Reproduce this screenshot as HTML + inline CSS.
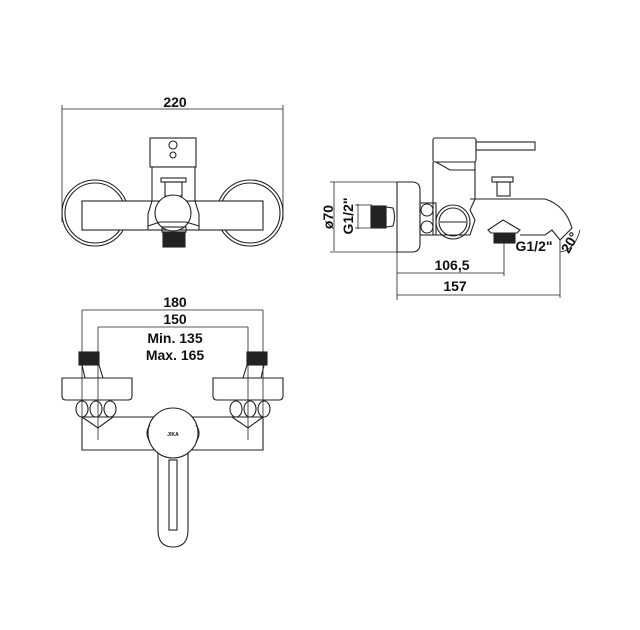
<!DOCTYPE html>
<html><head><meta charset="utf-8"><style>
html,body{margin:0;padding:0;background:#fff}
svg{display:block}
text{font-family:"Liberation Sans",sans-serif;font-weight:bold;fill:#111}
</style></head><body>
<svg width="640" height="630" viewBox="0 0 640 630" xmlns="http://www.w3.org/2000/svg">
<g fill="none" stroke="#222" stroke-width="1.1">
<line x1="62" y1="109" x2="283" y2="109" stroke-width="0.8"/>
<line x1="62" y1="105" x2="62" y2="222" stroke-width="0.8"/>
<line x1="283" y1="105" x2="283" y2="220" stroke-width="0.8"/>
<circle cx="95" cy="213" r="33"/>
<circle cx="95" cy="213" r="30"/>
<circle cx="250" cy="213" r="33"/>
<circle cx="250" cy="213" r="30"/>
<rect x="82" y="201" width="181" height="29" fill="#fff"/>
<rect x="150" y="138" width="46" height="29" fill="#fff"/>
<circle cx="173" cy="145" r="4"/>
<circle cx="173" cy="155" r="3"/>
<rect x="152" y="167" width="43" height="34" fill="#fff"/>
<rect x="161" y="178" width="25" height="4"/>
<rect x="165" y="182" width="17" height="14"/>
<path d="M152 201 L148 214 L148 230 M195 201 L199 214 L199 230" />
<circle cx="173" cy="213" r="18" fill="#fff"/>
<path d="M148 226 L160 222 L186 222 L199 226"/>
<rect x="162" y="227" width="24" height="5"/>
<rect x="163" y="232" width="22" height="15" fill="#222"/>
<line x1="334" y1="182" x2="334" y2="251" stroke-width="0.8"/>
<line x1="330" y1="182" x2="400" y2="182" stroke-width="0.8"/>
<line x1="330" y1="252" x2="400" y2="252" stroke-width="0.8"/>
<line x1="358" y1="204" x2="358" y2="229" stroke-width="0.8"/>
<line x1="355" y1="205" x2="372" y2="205" stroke-width="0.8"/>
<line x1="355" y1="228" x2="372" y2="228" stroke-width="0.8"/>
<path d="M397 182 L412 182 Q420 182 420 190 L420 244 Q420 252 412 252 L397 252 Z" fill="#fff"/>
<rect x="371" y="206" width="15" height="22" fill="#222"/>
<path d="M386 207 L393 208 Q396 217 393 226 L386 227 Z"/>
<rect x="420" y="203" width="16" height="32"/>
<circle cx="427" cy="210" r="6"/>
<circle cx="427" cy="227" r="6"/>
<rect x="433" y="138" width="43" height="24" rx="2" fill="#fff"/>
<rect x="476" y="142" width="59" height="8"/>
<path d="M433 162 L433 235 M475 162 L475 199 M436 162 L450 170 L475 170"/>
<circle cx="453" cy="222" r="17" fill="#fff"/>
<circle cx="453" cy="222" r="14"/>
<line x1="440" y1="222" x2="466" y2="222"/>
<path d="M470 199 L545 199 Q565 205 572 228 L560 240 L552 230 L545 235 L520 235"/>
<path d="M475 199 L470 210 L475 220 L470 235 L433 235"/>
<rect x="492" y="177" width="21" height="5"/>
<rect x="497" y="182" width="13" height="14"/>
<path d="M488 230 L503 220 L520 230 L517 233 L491 233 Z"/>
<rect x="494" y="234" width="21" height="9" fill="#222"/>
<line x1="504" y1="243" x2="504" y2="276" stroke-width="0.8"/>
<line x1="397" y1="252" x2="397" y2="300" stroke-width="0.8"/>
<line x1="397" y1="273" x2="504" y2="273" stroke-width="0.8"/>
<line x1="397" y1="295" x2="560" y2="295" stroke-width="0.8"/>
<line x1="560" y1="240" x2="560" y2="298" stroke-width="0.8"/>
<path d="M560 252 Q575 250 580 230" stroke-width="0.8"/>
<line x1="82" y1="310" x2="263" y2="310" stroke-width="0.8"/>
<line x1="82" y1="310" x2="82" y2="450" stroke-width="0.8"/>
<line x1="263" y1="310" x2="263" y2="450" stroke-width="0.8"/>
<line x1="98" y1="327" x2="248" y2="327" stroke-width="0.8"/>
<line x1="98" y1="327" x2="98" y2="440" stroke-width="0.8"/>
<line x1="248" y1="327" x2="248" y2="440" stroke-width="0.8"/>
<rect x="79" y="352" width="20" height="13" fill="#222"/>
<rect x="247" y="352" width="20" height="13" fill="#222"/>
<path d="M82 365 L85 378 M99 365 L103 378 M247 365 L243 378 M264 365 L261 378"/>
<path d="M62 378 L132 378 L132 396 Q132 400 128 400 L66 400 Q62 400 62 396 Z"/>
<path d="M213 378 L283 378 L283 396 Q283 400 279 400 L217 400 Q213 400 213 396 Z"/>
<ellipse cx="82" cy="409" rx="6" ry="8"/><ellipse cx="96" cy="409" rx="6" ry="8"/><ellipse cx="110" cy="409" rx="6" ry="8"/>
<ellipse cx="236" cy="409" rx="6" ry="8"/><ellipse cx="250" cy="409" rx="6" ry="8"/><ellipse cx="264" cy="409" rx="6" ry="8"/>
<path d="M82 417 L263 417 L263 450 L82 450 Z"/>
<path d="M82 417 L98 428 L113 417 M232 417 L248 428 L263 417"/>
<path d="M158 450 L158 530 Q158 547 173 547 Q188 547 188 530 L188 450" fill="#fff"/>
<rect x="169" y="460" width="8" height="70"/>
<circle cx="173" cy="433" r="25" fill="#fff"/>
<path d="M150 425 Q144 433 150 442 M196 425 Q202 433 196 442"/>
</g>
<text x="175" y="107" font-size="14" text-anchor="middle">220</text>
<text x="175" y="307" font-size="14" text-anchor="middle">180</text>
<text x="175" y="324" font-size="14" text-anchor="middle">150</text>
<text x="175" y="343" font-size="14" text-anchor="middle">Min. 135</text>
<text x="175" y="360" font-size="14" text-anchor="middle">Max. 165</text>
<text x="173" y="436" font-size="5" text-anchor="middle" font-weight="normal">JIKA</text>
<text x="452" y="270" font-size="14" text-anchor="middle">106,5</text>
<text x="455" y="291" font-size="14" text-anchor="middle">157</text>
<text x="534" y="251" font-size="14" text-anchor="middle">G1/2"</text>
<text transform="translate(333,217) rotate(-90)" font-size="14" text-anchor="middle">ø70</text>
<text transform="translate(353,216) rotate(-90)" font-size="14" text-anchor="middle">G1/2"</text>
<text transform="translate(574,245) rotate(-60)" font-size="14" text-anchor="middle">20°</text>
</svg>
</body></html>
